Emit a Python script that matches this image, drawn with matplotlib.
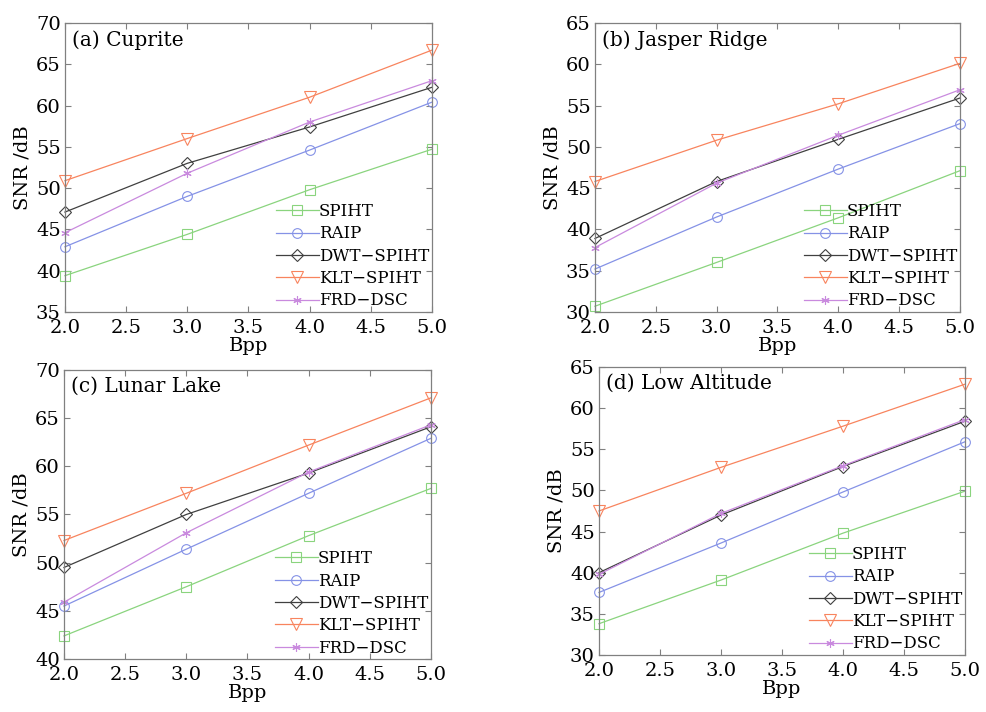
import matplotlib
matplotlib.use("Agg")
import matplotlib.pyplot as plt

plt.rcParams['font.family'] = ['DejaVu Serif']
plt.rcParams['font.size'] = 13

bpp = [2.0, 3.0, 4.0, 5.0]
methods = ['SPIHT', 'RAIP', 'DWT\u2212SPIHT', 'KLT\u2212SPIHT', 'FRD\u2212DSC']
colors = ['#8ad47e', '#8592e6', '#404040', '#f8845e', '#c98ade']
markers = ['s', 'o', 'D', 'v', (6, 2, 0)]
msizes = [7, 7, 6, 8, 6]

titles = ['(a) Cuprite', '(b) Jasper Ridge', '(c) Lunar Lake', '(d) Low Altitude']

cuprite = [
    [39.4, 44.4, 49.8, 54.7],
    [42.9, 49.0, 54.6, 60.4],
    [47.1, 53.0, 57.4, 62.2],
    [50.9, 56.0, 61.0, 66.7],
    [44.6, 51.8, 58.0, 63.0],
]
jasper = [
    [30.7, 36.0, 41.4, 47.1],
    [35.2, 41.5, 47.3, 52.8],
    [38.9, 45.8, 50.9, 55.9],
    [45.8, 50.8, 55.2, 60.1],
    [37.8, 45.6, 51.4, 56.9],
]
lunar = [
    [42.4, 47.5, 52.8, 57.7],
    [45.5, 51.4, 57.2, 62.9],
    [49.5, 55.0, 59.3, 64.1],
    [52.3, 57.2, 62.2, 67.1],
    [45.9, 53.1, 59.4, 64.3],
]
low_alt = [
    [33.8, 39.1, 44.8, 49.9],
    [37.6, 43.6, 49.8, 55.9],
    [40.0, 47.0, 52.9, 58.4],
    [47.5, 52.8, 57.8, 62.9],
    [39.8, 47.2, 53.0, 58.6],
]
datasets = [cuprite, jasper, lunar, low_alt]
ylims = [(35, 70), (30, 65), (40, 70), (30, 65)]

positions = [
    [0.0659, 0.5618, 0.372, 0.406],
    [0.6034, 0.5618, 0.370, 0.406],
    [0.0649, 0.0744, 0.372, 0.406],
    [0.6075, 0.0801, 0.371, 0.4045],
]

fig = plt.figure(figsize=(9.86, 7.12), dpi=100)

for pos, data, title, ylim in zip(positions, datasets, titles, ylims):
    ax = fig.add_axes(pos)
    for vals, name, c, m, ms in zip(data, methods, colors, markers, msizes):
        ax.plot(bpp, vals, color=c, marker=m, markersize=ms,
                markerfacecolor='none', markeredgecolor=c, linewidth=0.9,
                markeredgewidth=0.8, label=name, clip_on=False)
    ax.set_xlim(2.0, 5.0)
    ax.set_ylim(*ylim)
    ax.set_xticks([2.0, 2.5, 3.0, 3.5, 4.0, 4.5, 5.0])
    ax.set_xticklabels(['2.0', '2.5', '3.0', '3.5', '4.0', '4.5', '5.0'])
    ax.set_yticks(range(ylim[0], ylim[1] + 1, 5))
    ax.tick_params(direction='in', top=True, right=True, length=4,
                   color='#808080', labelsize=14, pad=3)
    ax.tick_params(axis='x', pad=5)
    for sp in ax.spines.values():
        sp.set_color('#808080')
        sp.set_linewidth(0.9)
    ax.set_xlabel('Bpp', fontsize=14, labelpad=0)
    ax.set_ylabel('SNR /dB', fontsize=14, labelpad=3)
    ax.text(0.02, 0.975, title, transform=ax.transAxes, ha='left', va='top', fontsize=14.5)
    ax.legend(loc='lower right', frameon=False, fontsize=12, handlelength=2.6,
              handletextpad=0.0, labelspacing=0.32, borderaxespad=0.0, borderpad=0.15)

fig.savefig('out.png', dpi=100)
